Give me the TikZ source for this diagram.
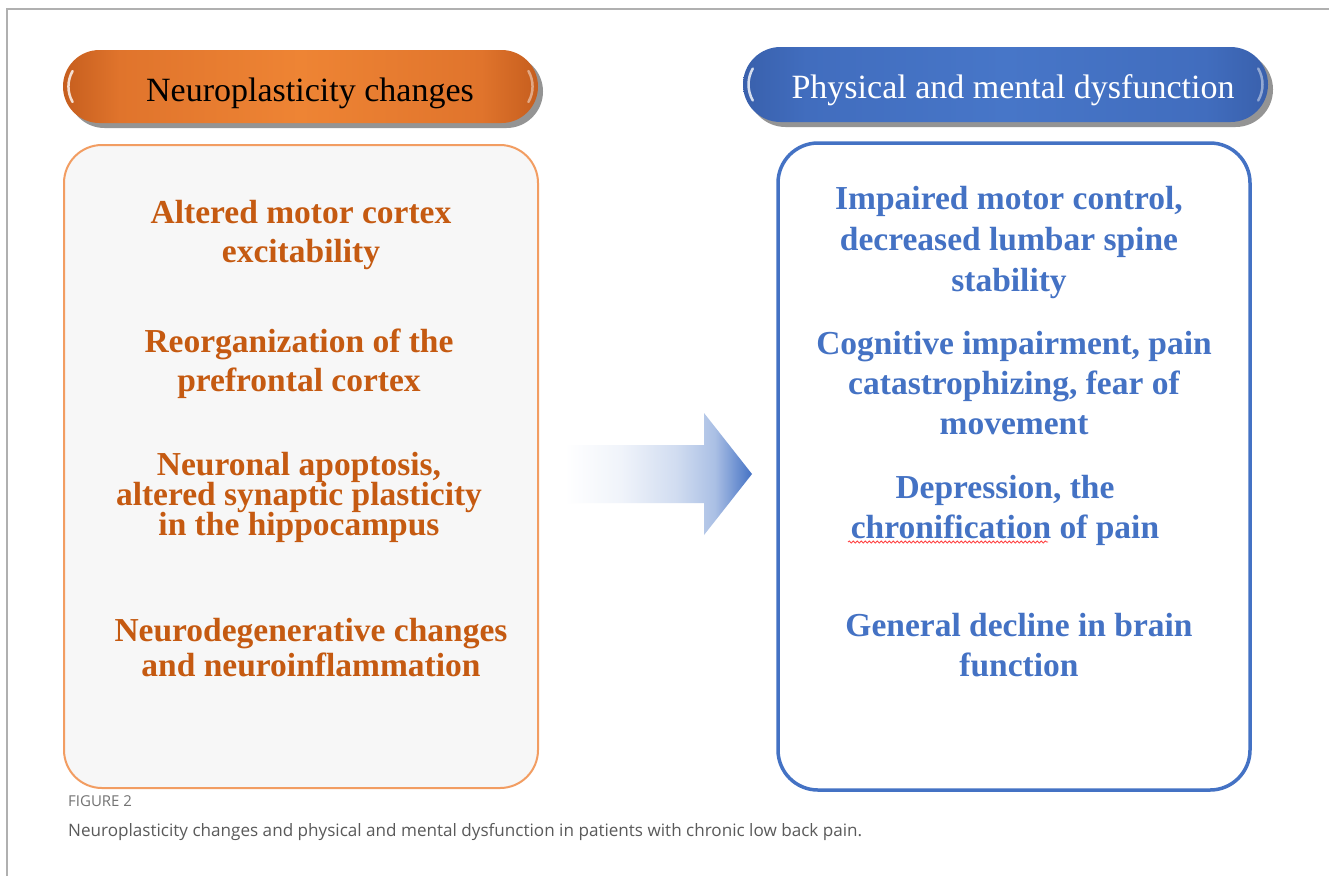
\documentclass[tikz,border=0pt]{standalone}
\usepackage{fontspec}
\setmainfont{Liberation Serif}
\newfontfamily\capfont{Open Sans}
\usetikzlibrary{shapes.misc,shadows,decorations.pathmorphing}

\definecolor{orangetxt}{HTML}{C55A11}
\definecolor{orangeedge}{HTML}{C65E1E}
\definecolor{orangeside}{HTML}{E0742C}
\definecolor{orangemid}{HTML}{EE8434}
\definecolor{orangeline}{HTML}{F29D62}
\definecolor{panelfill}{HTML}{F7F7F7}
\definecolor{bluetxt}{HTML}{4472C4}
\definecolor{blueedge}{HTML}{3960AC}
\definecolor{blueside}{HTML}{416DBE}
\definecolor{bluemid}{HTML}{4776C8}
\definecolor{frameline}{HTML}{B0B0B0}
\definecolor{captxt}{HTML}{5A5A5A}

% fading fill for the block arrow (path box maps to 25bp..75bp)
\pgfdeclarehorizontalshading{arrowfade}{100bp}{%
  color(0bp)=(white); color(25bp)=(white); color(40bp)=(bluetxt!8);
  color(55bp)=(bluetxt!25); color(65bp)=(bluetxt!45);
  color(75bp)=(bluetxt); color(100bp)=(bluetxt)}
% glossy pill fills: dark ends, bright middle
\pgfdeclarehorizontalshading{orangegloss}{100bp}{%
  color(0bp)=(orangeedge); color(25bp)=(orangeedge); color(31bp)=(orangeside);
  color(50bp)=(orangemid); color(69bp)=(orangeside);
  color(75bp)=(orangeedge); color(100bp)=(orangeedge)}
\pgfdeclarehorizontalshading{bluegloss}{100bp}{%
  color(0bp)=(blueedge); color(25bp)=(blueedge); color(31bp)=(blueside);
  color(50bp)=(bluemid); color(69bp)=(blueside);
  color(75bp)=(blueedge); color(100bp)=(blueedge)}

% item text: bold serif with fixed line pitch
\newcommand{\itemfont}[1]{\bfseries\fontsize{33.5}{#1}\selectfont\lineskiplimit=-60pt\relax}

\tikzset{
  pill/.style={rounded rectangle, draw=none, inner sep=0pt, shade,
    drop shadow={shadow xshift=5pt, shadow yshift=-5pt, fill=black!42, opacity=1}},
  orangepill/.style={pill, shading=orangegloss},
  bluepill/.style={pill, shading=bluegloss},
  titletext/.style={font=\fontsize{34}{40}\selectfont, anchor=base, inner sep=0pt},
  panel/.style={rectangle, inner sep=0pt},
  leftitem/.style={font=\itemfont{39}, text=orangetxt, align=center, inner sep=0pt},
  rightitem/.style={font=\itemfont{40}, text=bluetxt, align=center, inner sep=0pt},
  gloss/.style={white, line width=2.5pt, line cap=round},
}

\begin{document}
\begin{tikzpicture}[x=1pt, y=-1pt]
\useasboundingbox[fill=white] (0,0) rectangle (1329,876);

% page frame
\draw[frameline, line width=1.5pt] (7,876) -- (7,9) -- (1329,9);

% title pills
\node[orangepill, minimum width=475, minimum height=73] (ltitle) at (300.5,86.5) {};
\node[bluepill, minimum width=525, minimum height=75] (rtitle) at (1005.5,84.5) {};
% light reflections on the rounded ends
\draw[gloss, opacity=0.8] (72.6,102) arc[start angle=150, end angle=210, radius=31];
\draw[gloss, opacity=0.45] (528.4,71) arc[start angle=-30, end angle=30, radius=31];
\draw[gloss, opacity=0.8] (752.8,100.5) arc[start angle=150, end angle=210, radius=32];
\draw[gloss, opacity=0.45] (1258.2,68.5) arc[start angle=-30, end angle=30, radius=32];
\node[titletext, text=black] (ltitletext) at (310,101) {Neuroplasticity changes};
\node[titletext, text=white] (rtitletext) at (1013,98) {Physical and mental dysfunction};

% content panels
\node[panel, fill=panelfill, draw=orangeline, line width=2pt, rounded corners=38pt,
      minimum width=474, minimum height=643] (lpanel) at (301,466.5) {};
\node[panel, fill=white, draw=bluetxt, line width=3.5pt, rounded corners=40pt,
      minimum width=472, minimum height=647] (rpanel) at (1014,466.5) {};

% left column items
\node[leftitem] (l1) at (301,234.5) {Altered motor cortex\\excitability};
\node[leftitem] (l2) at (299,363.5) {Reorganization of the\\prefrontal cortex};
\node[leftitem, font=\itemfont{30}] (l3) at (299,497)
  {Neuronal apoptosis,\\altered synaptic plasticity\\in the hippocampus};
\node[leftitem, font=\itemfont{35}] (l4) at (311,648)
  {Neurodegenerative changes\\and neuroinflammation};

% right column items
\node[rightitem, font=\itemfont{41}] (r1) at (1009,242)
  {Impaired motor control,\\decreased lumbar spine\\stability};
\node[rightitem] (r2) at (1014,383.5) {Cognitive impairment, pain\\catastrophizing, fear of\\movement};
\node[rightitem] (r3) at (1005,510) {Depression, the\\chronification of pain};
\node[rightitem] (r4) at (1019,645.5) {General decline in brain\\function};
\draw[red!75, line width=0.8pt, decorate, decoration={snake, amplitude=1.1pt, segment length=4pt}]
  (848,542) -- (1048,542);

% block arrow between the panels
\path[shading=arrowfade] (565,445) -- (704,445) -- (704,413) -- (752,474)
  -- (704,535) -- (704,503) -- (565,503) -- cycle;

% caption
\node[anchor=base west, inner sep=0pt, text=captxt!85,
      font=\capfont\fontsize{15}{18}\selectfont] (figlabel) at (68,806) {FIGURE 2};
\node[anchor=base west, inner sep=0pt, text=captxt,
      font=\capfont\fontsize{17.1}{20}\selectfont] (caption) at (68,836)
  {Neuroplasticity changes and physical and mental dysfunction in patients with chronic low back pain.};
\end{tikzpicture}
\end{document}
